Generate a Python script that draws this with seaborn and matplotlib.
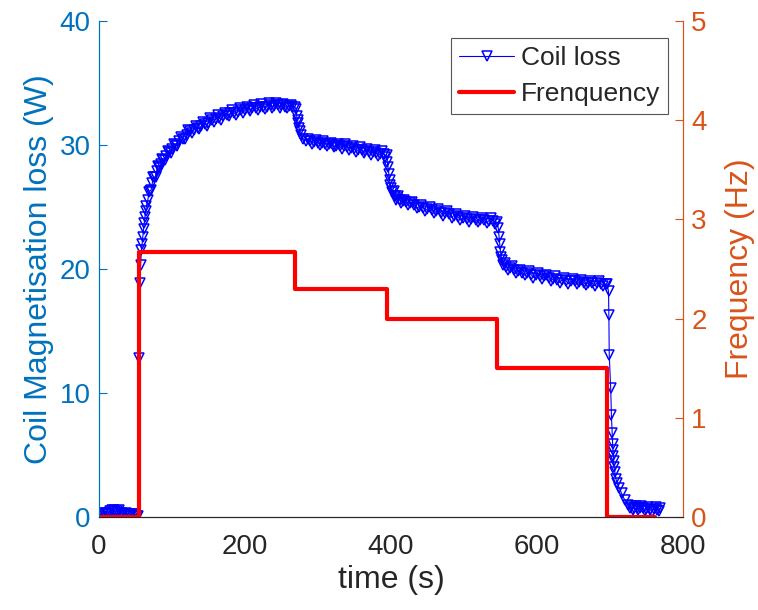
import numpy as np
import pandas as pd
import matplotlib
matplotlib.use("Agg")
import matplotlib.pyplot as plt
import seaborn as sns

sns.set_style("white")
plt.rcParams['font.family'] = ['Liberation Sans', 'DejaVu Sans']

# coil magnetisation loss (W), time in seconds
loss_t = [0, 5, 10, 15, 20, 25, 30, 35, 40, 45, 50, 54,
          55, 56, 57, 58, 59, 60, 61, 62, 63, 64, 65, 67, 70, 73, 76, 79,
          82, 85, 88, 92, 96, 100, 105, 110, 115, 120, 125, 130, 135, 140,
          145, 150, 155, 160, 165, 170, 175, 180, 185, 190, 195, 200, 205,
          210, 215, 220, 225, 230, 235, 240, 245, 250, 255, 260, 265, 268,
          270, 271, 272, 273, 274, 275, 277, 280, 284, 289, 295, 300, 305,
          310, 315, 320, 325, 330, 335, 340, 345, 350, 355, 360, 365, 370,
          375, 380, 385, 390, 394,
          395, 396, 397, 398, 399, 400, 402, 405, 408, 412, 416, 420, 426,
          432, 438, 444, 450, 456, 462, 468, 474, 480, 486, 492, 498, 504,
          510, 516, 522, 528, 534, 540, 545,
          547, 548, 549, 550, 551, 552, 554, 558, 563, 568, 574, 580, 586,
          592, 598, 604, 610, 616, 622, 628, 634, 640, 646, 652, 658, 664,
          670, 676, 682, 688, 694, 696,
          698, 698.5, 699, 701, 702, 703, 703.5, 704, 704.5, 705, 705.5,
          706.5, 708, 710, 713, 716, 720, 725, 729, 733, 737, 741, 745, 750,
          755, 760, 765, 768]
loss_w = [0.2, 0.25, 0.3, 0.45, 0.55, 0.5, 0.35, 0.25, 0.15, 0.2, 0.15, 0.1,
          12.8, 18.85, 20.3, 21.5, 22.0, 22.6, 23.2, 23.7, 24.2, 24.7, 25.1,
          25.6, 26.3, 26.9, 27.4, 27.9, 28.2, 28.5, 28.8, 29.1, 29.4, 29.7,
          30.0, 30.3, 30.5, 30.8, 31.1, 31.2, 31.4, 31.5, 31.7, 31.8, 32.0,
          32.1, 32.2, 32.3, 32.45, 32.55, 32.6, 32.7, 32.8, 32.8, 32.9, 32.95,
          33.0, 33.05, 33.1, 33.1, 33.2, 33.15, 33.2, 33.2, 33.1, 33.15, 33.1,
          33.1,
          32.9, 32.3, 32.0, 31.75, 31.4, 31.1, 30.8, 30.5, 30.35, 30.3, 30.25,
          30.2, 30.15, 30.1, 30.05, 30.0, 29.95, 29.9, 29.9, 29.8, 29.75,
          29.7, 29.6, 29.6, 29.5, 29.45, 29.4, 29.35, 29.3, 29.3, 29.2,
          28.65, 28.2, 27.7, 27.2, 26.8, 26.5, 26.2, 25.9, 25.7, 25.6, 25.45,
          25.4, 25.3, 25.15, 25.0, 24.95, 24.85, 24.75, 24.65, 24.55, 24.5,
          24.4, 24.3, 24.2, 24.1, 24.05, 24.0, 23.95, 23.95, 23.95, 23.9,
          23.9, 23.8,
          23.3, 22.6, 22.0, 21.4, 21.0, 20.7, 20.35, 20.15, 20.05, 19.9, 19.8,
          19.7, 19.65, 19.55, 19.5, 19.45, 19.4, 19.3, 19.2, 19.15, 19.1,
          19.05, 19.0, 19.0, 18.95, 18.9, 18.9, 18.85, 18.85, 18.8, 18.8,
          18.75,
          18.2, 16.3, 13.1, 10.4, 8.2, 6.75, 5.9, 5.4, 4.9, 4.5, 4.05, 3.65,
          3.1, 2.7, 2.3, 1.9, 1.4, 1.0, 0.85, 0.75, 0.7, 0.75, 0.7, 0.65, 0.6,
          0.65, 0.6, 0.7]

# extra readings along the upper / lower edge of the noisy band
band_t = [2.5, 7.5, 12.5, 17.5, 22.5, 27.5, 32.5, 37.5, 42.5, 47.5, 52,
          68.5, 71.5, 74.5, 77.5, 80.5, 83.5, 86.5, 90, 94, 98, 102.5, 107.5,
          112.5, 117.5, 122.5, 127.5, 132.5, 137.5, 142.5, 147.5, 152.5,
          157.5, 162.5, 167.5, 172.5, 177.5, 182.5, 187.5, 192.5, 197.5,
          202.5, 207.5, 212.5, 217.5, 222.5, 227.5, 232.5, 237.5, 242.5,
          247.5, 252.5, 257.5, 262.5,
          286.5, 292, 297.5, 302.5, 307.5, 312.5, 317.5, 322.5, 327.5, 332.5,
          337.5, 342.5, 347.5, 352.5, 357.5, 362.5, 367.5, 372.5, 377.5,
          382.5, 387.5, 392,
          403.5, 406.5, 410, 414, 418, 423, 429, 435, 441, 447, 453, 459, 465,
          471, 477, 483, 489, 495, 501, 507, 513, 519, 525, 531, 537, 542.5,
          556, 560.5, 565.5, 571, 577, 583, 589, 595, 601, 607, 613, 619, 625,
          631, 637, 643, 649, 655, 661, 667, 673, 679, 685, 691,
          727, 731, 735, 739, 743, 747.5, 752.5, 757.5, 762.5, 766.5]
band_w = [0.1, 0.35, 0.2, 0.6, 0.4, 0.55, 0.2, 0.3, 0.1, 0.25, 0.05,
          26.2, 26.4, 27.4, 27.45, 28.3, 28.15, 28.9, 28.75, 29.5, 29.35,
          30.1, 29.95, 30.65, 30.45, 31.2, 30.95, 31.55, 31.25, 31.85, 31.55,
          32.15, 31.85, 32.4, 32.05, 32.6, 32.3, 32.8, 32.45, 32.95, 32.6,
          33.05, 32.75, 33.2, 32.85, 33.3, 32.9, 33.35, 33.0, 33.35, 33.0,
          33.3, 32.95, 33.25,
          30.5, 30.1, 30.4, 30.0, 30.3, 29.9, 30.2, 29.8, 30.1, 29.7, 30.05,
          29.6, 29.9, 29.45, 29.8, 29.35, 29.7, 29.2, 29.6, 29.1, 29.5, 29.05,
          26.25, 25.6, 25.85, 25.3, 25.6, 25.15, 25.4, 24.9, 25.2, 24.7, 25.0,
          24.5, 24.8, 24.3, 24.65, 24.15, 24.45, 23.95, 24.3, 23.8, 24.2,
          23.75, 24.15, 23.7, 24.1, 23.65,
          20.45, 19.9, 20.2, 19.65, 19.95, 19.5, 19.8, 19.3, 19.7, 19.2, 19.55,
          19.05, 19.4, 18.9, 19.3, 18.8, 19.2, 18.75, 19.1, 18.7, 19.05, 18.65,
          19.0, 18.6,
          0.7, 0.6, 0.9, 0.55, 0.9, 0.45, 0.8, 0.4, 0.8, 0.45]

# frequency steps (Hz)
freq_t = [0, 55, 269, 394, 545, 696, 762]
freq_hz = [0, 2.67, 2.3, 2.0, 1.5, 0, 0]

blue = '#0072BD'
orange = '#D95319'
dark = '#262626'

coil = pd.DataFrame({'t': loss_t + band_t, 'w': loss_w + band_w})
coil = coil.sort_values('t')

fig = plt.figure(figsize=(7.58, 6.10), dpi=100)
ax = fig.add_axes([0.1306, 0.1525, 0.7704, 0.8131])
ax2 = ax.twinx()

sns.lineplot(data=coil, x='t', y='w', ax=ax, color='blue', lw=0.8,
             marker='v', markersize=6.5, markerfacecolor='none',
             markeredgecolor='blue', markeredgewidth=1.1, label='Coil loss',
             legend=False)
sns.lineplot(x=freq_t, y=freq_hz, ax=ax2, color='red', lw=3,
             drawstyle='steps-post', label='Frenquency', legend=False)

ax.set_xlim(0, 800)
ax.set_ylim(0, 40)
ax2.set_ylim(0, 5)
ax.set_xticks([0, 200, 400, 600, 800])
ax.set_yticks([0, 10, 20, 30, 40])
ax2.set_yticks([0, 1, 2, 3, 4, 5])

ax.set_xlabel('time (s)', fontsize=23, color=dark)
ax.set_ylabel('Coil Magnetisation loss (W)', fontsize=23, color=blue)
ax2.set_ylabel('Frequency (Hz)', fontsize=23, color=orange, labelpad=13)

ax.tick_params(axis='x', direction='in', length=6, width=0.8, colors=dark,
               labelsize=20, pad=12)
ax.tick_params(axis='y', direction='in', length=6, width=0.8, colors=blue,
               labelsize=20, pad=6)
ax2.tick_params(axis='y', direction='in', length=6, width=0.8, colors=orange,
                labelsize=20, pad=6)

for a in (ax, ax2):
    a.spines['top'].set_visible(False)
    a.spines['left'].set_color(blue)
    a.spines['right'].set_color(orange)
    a.spines['bottom'].set_color(dark)
    a.spines['bottom'].set_linewidth(0.8)

handles = ax.get_lines()[:1] + ax2.get_lines()[:1]
leg = ax2.legend(handles, ['Coil loss', 'Frenquency'], loc='upper right',
                 fontsize=19, frameon=True, fancybox=False, framealpha=1,
                 edgecolor='#555555', borderpad=0.3, labelspacing=0.45,
                 handlelength=2.1, handletextpad=0.25,
                 bbox_to_anchor=(0.975, 0.965), borderaxespad=0)
leg.get_frame().set_linewidth(0.8)

fig.savefig('out.png', dpi=100)
